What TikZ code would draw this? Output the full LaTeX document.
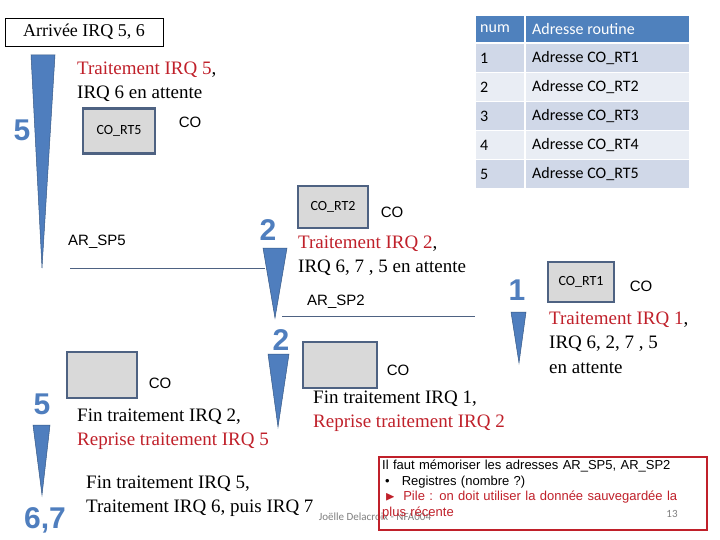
\documentclass[tikz,border=0pt]{standalone}
\usepackage{amssymb}
\usepackage{fontspec}
\setmainfont{Liberation Serif}
\newfontfamily\carlfont{Carlito}
\newfontfamily\arsfont{Liberation Sans}
\begin{document}
\begin{tikzpicture}[x=1pt,y=-1pt,
  txt/.style={font=\fontsize{19}{22}\selectfont,anchor=west,inner sep=0},
  red/.style={text=rtxt},
  wedge/.style={fill=wblue,draw=wblue!70!black,line width=0.5pt},
  big/.style={font=\arsfont\bfseries\fontsize{30}{30}\selectfont,text=wblue,draw=none},
  co/.style={font=\arsfont\fontsize{15}{15}\selectfont,inner sep=0},
  box/.style={draw=bbord,line width=2.5pt,fill=bfill,minimum width=#1,font=\carlfont\fontsize{14}{14}\selectfont,inner sep=0},
  cell/.style={anchor=west,font=\carlfont\fontsize{16}{16}\selectfont,inner sep=0}]
\definecolor{wblue}{HTML}{4F7EBE}
\definecolor{rtxt}{HTML}{C0202A}
\definecolor{bbord}{HTML}{4E6282}
\definecolor{bfill}{HTML}{D9D9D9}
\definecolor{hdr}{HTML}{4F81BD}
\definecolor{ra}{HTML}{D0D8E8}
\definecolor{rb}{HTML}{E9EDF4}
\useasboundingbox (0,0) rectangle (720,540);
\fill[white] (0,0) rectangle (720,540);
% title
\node[draw,thick,inner sep=3pt,minimum width=158,minimum height=28,font=\fontsize{18}{20}\selectfont] (title) at (84,32) {Arrivée IRQ 5, 6};
% table
\fill[hdr] (476,16) rectangle (689,42);
\foreach \i/\c in {1/ra,2/rb,3/ra,4/rb,5/ra}{
  \fill[\c] (476,{15+29*\i}) rectangle (524,{43+29*\i});
  \fill[\c] (526,{15+29*\i}) rectangle (689,{43+29*\i});
  \node[cell] (n\i) at (480,{29+29*\i}) {\i};
  \node[cell] (a\i) at (532,{29+29*\i}) {Adresse CO\_RT\i};
}
\draw[white,line width=1.5pt] (525,16) -- (525,188);
\node[cell,text=white] (hn) at (480,29) {num};
\node[cell,text=white] (ha) at (532,29) {Adresse routine};
% wedges
\draw[wedge] (31,55) -- (55,55) -- (42,268) -- cycle;
\draw[wedge] (263,248) -- (287,248) -- (275,318) -- cycle;
\draw[wedge] (511,312) -- (526,312) -- (519,363) -- cycle;
\draw[wedge] (268,354) -- (289,354) -- (278,427) -- cycle;
\draw[wedge] (33,425) -- (50,425) -- (42,495) -- cycle;
% big numbers
\node[big] (d5a) at (22,130) {5};
\node[big] (d2a) at (268,230) {2};
\node[big] (d1) at (517,290) {1};
\node[big] (d2b) at (281,340) {2};
\node[big] (d5b) at (42,404) {5};
\node[big] (d67) at (45,520) {6,7};
% texts
\node[txt] (t1) at (77,70) {\textcolor{rtxt}{Traitement IRQ 5},};
\node[txt] (t2) at (77,94) {IRQ 6 en attente};
\node[box=72,minimum height=45] (b5) at (119,131) {CO\_RT5};
\node[co] (c5) at (190,122) {CO};
\node[co,anchor=west] (ar5) at (68,242) {AR\_SP5};
\draw[bbord,thin] (70,268) -- (265,268);
\node[box=70,minimum height=42] (b2) at (333,207) {CO\_RT2};
\node[co] (c2) at (392,212) {CO};
\node[txt] (t3) at (298,244) {\textcolor{rtxt}{Traitement IRQ 2},};
\node[txt] (t4) at (298,268) {IRQ 6, 7 , 5 en attente};
\node[co,anchor=west] (ar2) at (307,302) {AR\_SP2};
\draw[bbord,thin] (282,316) -- (475,316);
\node[box=66,minimum height=40] (b1) at (581,282) {CO\_RT1};
\node[co] (c1) at (641,286) {CO};
\node[txt] (t5) at (549,320) {\textcolor{rtxt}{Traitement IRQ 1},};
\node[txt] (t6) at (549,344) {IRQ 6, 2, 7 , 5};
\node[txt] (t7) at (549,368) {en attente};
\node[box=74,minimum height=46] (bx1) at (340,365) {};
\node[co] (c3) at (398,370) {CO};
\node[txt] (t8) at (313,399) {Fin traitement IRQ 1,};
\node[txt,red] (t9) at (313,423) {Reprise traitement IRQ 2};
\node[box=70,minimum height=46] (bx2) at (102,375) {};
\node[co] (c4) at (160,383) {CO};
\node[txt] (t10) at (77,417) {Fin traitement IRQ 2,};
\node[txt,red] (t11) at (77,441) {Reprise traitement IRQ 5};
\node[txt] (t12) at (86,484) {Fin traitement IRQ 5,};
\node[txt] (t13) at (86,508) {Traitement IRQ 6, puis IRQ 7};
% footer
\node[font=\carlfont\fontsize{11}{11}\selectfont,text=gray,inner sep=0] (ft) at (375,517) {Joëlle Delacroix - NFA004};
\node[font=\carlfont\fontsize{11}{11}\selectfont,text=gray,inner sep=0] (pg) at (672,514) {13};
% red box
\draw[rtxt,line width=2.5pt] (379,457) rectangle (707,530);
\node[anchor=north west,inner sep=0,font=\arsfont\fontsize{13}{15.5}\selectfont,text width=320] (note) at (382,460) {Il faut mémoriser les adresses AR\_SP5, AR\_SP2\\
\hspace*{3pt}\textbullet\hspace{12pt}Registres (nombre ?)\\
\textcolor{rtxt}{\hspace*{3pt}$\blacktriangleright$\hspace{8pt}Pile : on doit utiliser la donnée sauvegardée la plus récente}};
\end{tikzpicture}
\end{document}
